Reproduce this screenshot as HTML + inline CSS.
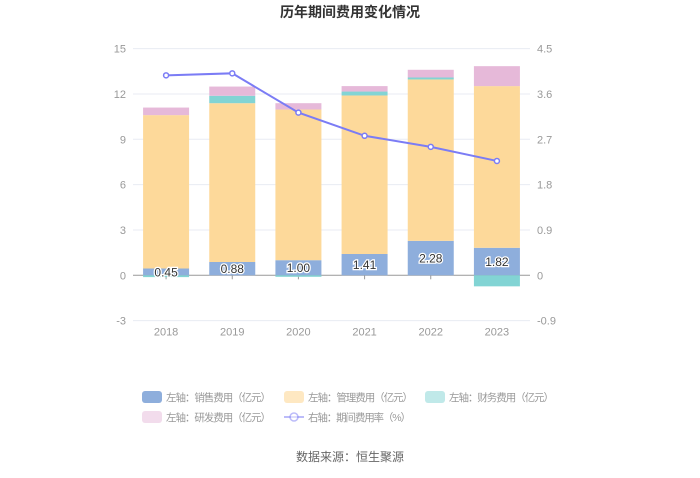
<!DOCTYPE html>
<html><head><meta charset="utf-8"><style>
body{margin:0;background:#fff;font-family:"Liberation Sans","Noto Sans CJK SC",sans-serif;}
svg text{font-family:"Liberation Sans","Noto Sans CJK SC",sans-serif;}
</style></head><body>
<svg id="c" width="700" height="473">
<text x="350" y="17" text-anchor="middle" font-size="14" font-weight="bold" fill="#333">历年期间费用变化情况</text>
<g id="grid"></g><g id="bars"></g><g id="line"></g><g id="labels"></g>
<g font-size="10.5" fill="#999">
<rect x="142" y="391" width="20" height="12" rx="3" fill="#8eaedc"/>
<text x="166" y="401" textLength="105">左轴：销售费用（亿元）</text>
<rect x="284" y="391" width="20" height="12" rx="3" fill="#fdd99a" opacity="0.6"/>
<text x="308" y="401" textLength="105">左轴：管理费用（亿元）</text>
<rect x="425" y="391" width="20" height="12" rx="3" fill="#82d4d4" opacity="0.5"/>
<text x="449" y="401" textLength="105">左轴：财务费用（亿元）</text>
<rect x="142" y="411" width="20" height="12" rx="3" fill="#e6b9d9" opacity="0.5"/>
<text x="166" y="421" textLength="105">左轴：研发费用（亿元）</text>
<line x1="284" y1="417" x2="304" y2="417" stroke="#7b7cf5" stroke-width="2" opacity="0.5"/>
<circle cx="294" cy="417" r="4" fill="#fff" stroke="#7b7cf5" stroke-width="1.5" opacity="0.5"/>
<text x="308" y="421" textLength="103">右轴：期间费用率（%）</text>
</g>
<text x="350" y="461" text-anchor="middle" font-size="12" fill="#666">数据来源：恒生聚源</text>
</svg>
<script>
const years=["2018","2019","2020","2021","2022","2023"];
const sales=[0.45,0.88,1.00,1.41,2.28,1.82];
const admin=[10.15,10.51,9.97,10.49,10.68,10.70];
const finance=[-0.12,0.49,-0.1,0.26,0.13,-0.73];
const rd=[0.50,0.61,0.42,0.36,0.51,1.32];
const rate=[3.97,4.01,3.23,2.77,2.55,2.27];
const leftTicks=[-3,0,3,6,9,12,15];
const rightTicks=["-0.9","0","0.9","1.8","2.7","3.6","4.5"];
const NS="http://www.w3.org/2000/svg";
const x0=133,x1=530,yTop=48,yBot=320;
const yL=v=>275.3-(v)*(yBot-yTop)/18;
const yR=v=>yL(v*15/4.5);
const xC=i=>x0+(i+0.5)*(x1-x0)/years.length;
function mk(t,a,p){const e=document.createElementNS(NS,t);for(const k in a)e.setAttribute(k,a[k]);p.appendChild(e);return e;}
const grid=document.getElementById('grid');
leftTicks.forEach((v,i)=>{
 const y=yL(v);
 const l=mk('line',{x1:x0,x2:x1,y1:y,y2:y,stroke:v===0?'#999':'#e8ebf3'},grid);
 
 
 const t=mk('text',{x:126,y:y+4,'text-anchor':'end','font-size':11,fill:'#999'},grid);t.textContent=v;
 
 
 const r=mk('text',{x:537,y:y+4,'font-size':11,fill:'#999'},grid);r.textContent=rightTicks[i];
 
 
});
const bars=document.getElementById('bars'),labels=document.getElementById('labels');
const bw=46;
years.forEach((yr,i)=>{
 const cx=xC(i);
 mk('line',{x1:cx,x2:cx,y1:yL(0),y2:yL(0)+4,stroke:'#999'},grid);
 const t=mk('text',{x:cx,y:yL(0)+60,'text-anchor':'middle','font-size':11,fill:'#999'},grid);t.textContent=yr;
 
 
 let pos=0,neg=0;
 const series=[[sales,'#8eaedc','bar-sales'],[admin,'#fdd99a','bar-admin'],[finance,'#82d4d4','bar-finance'],[rd,'#e6b9d9','bar-rd']];
 series.forEach(([arr,col,nm])=>{
  const v=arr[i];let a,b;
  if(v>=0){a=pos;b=pos+v;pos=b;}else{a=neg;b=neg+v;neg=b;}
  const y1=Math.min(yL(a),yL(b)),h=Math.abs(yL(a)-yL(b));
  const r=mk('rect',{x:cx-bw/2,y:y1,width:bw,height:h,fill:col},bars);
  
  
 });
 const lb=mk('text',{x:cx,y:yL(sales[i]/2)+4.5,'text-anchor':'middle','font-size':12,fill:'#333',stroke:'#fff','stroke-width':2.5,'paint-order':'stroke'},labels);
 lb.textContent=sales[i].toFixed(2);
 
 
});
const lg=document.getElementById('line');
const pts=rate.map((v,i)=>xC(i)+','+yR(v)).join(' ');
const pl=mk('polyline',{points:pts,fill:'none',stroke:'#7b7cf5','stroke-width':2},lg);


rate.forEach((v,i)=>{
 const c=mk('circle',{cx:xC(i),cy:yR(v),r:2.5,fill:'#fff',stroke:'#7b7cf5','stroke-width':1.5},lg);
 
 
});
</script>
</body></html>
